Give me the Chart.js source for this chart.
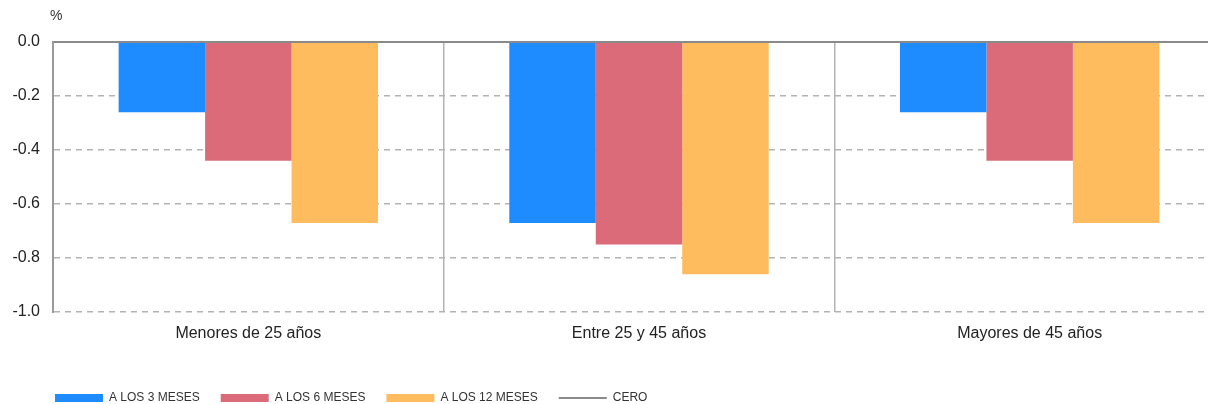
<!DOCTYPE html>
<html>
<head>
<meta charset="utf-8">
<script src="https://cdn.jsdelivr.net/npm/chart.js@4"></script>
<style>
  html, body { margin: 0; padding: 0; background: #fff; overflow: hidden; }
  #wrap { width: 1208px; height: 404px; overflow: hidden; }
</style>
</head>
<body>
<div id="wrap"><canvas id="theChart" width="1225" height="414"></canvas></div>
<script>
"use strict";

// Data
const categories = ["Menores de 25 años", "Entre 25 y 45 años", "Mayores de 45 años"];
const seriesNames = ["A LOS 3 MESES", "A LOS 6 MESES", "A LOS 12 MESES", "CERO"];
const threeMonths = [-0.26, -0.67, -0.26];
const sixMonths = [-0.44, -0.75, -0.44];
const twelveMonths = [-0.67, -0.86, -0.67];
const zeroLine = [0, 0, 0];
const yTicks = [0, -0.2, -0.4, -0.6, -0.8, -1.0];

const barColors = ["#1E8CFF", "#DB6B79", "#FEBC5F"];
const textColor = "#222";
const gridGray = "#b3b3b3";
const zeroGray = "#8a8a8a";

// "%" unit label above the y axis, and legend nudged right to line up with the axis
const extras = {
  id: "extras",
  beforeDraw(chart) {
    chart.legend.left = 34;
  },
  afterDraw(chart) {
    const ctx = chart.ctx;
    ctx.save();
    ctx.font = "14px 'Liberation Sans', Arial, sans-serif";
    ctx.fillStyle = "#333";
    ctx.textAlign = "left";
    ctx.textBaseline = "middle";
    ctx.fillText("%", chart.chartArea.left - 3, 16);
    ctx.restore();
  }
};

const barSet = (label, data, color) => ({
  type: "bar",
  label: label,
  data: data,
  backgroundColor: color,
  borderWidth: 0,
  pointStyle: "rect",
  categoryPercentage: 0.664,
  barPercentage: 1
});

new Chart(document.getElementById("theChart"), {
  type: "bar",
  data: {
    labels: categories,
    datasets: [
      barSet(seriesNames[0], threeMonths, barColors[0]),
      barSet(seriesNames[1], sixMonths, barColors[1]),
      barSet(seriesNames[2], twelveMonths, barColors[2]),
      {
        type: "line",
        label: seriesNames[3],
        data: zeroLine,
        borderColor: zeroGray,
        backgroundColor: zeroGray,
        borderWidth: 2,
        pointRadius: 0,
        pointStyle: "line",
        order: -1
      }
    ]
  },
  options: {
    responsive: false,
    animation: false,
    layout: { padding: { top: 42, left: 0, right: 0, bottom: 0 } },
    plugins: {
      tooltip: { enabled: false },
      legend: {
        position: "bottom",
        align: "start",
        labels: {
          usePointStyle: true,
          pointStyleWidth: 48,
          boxHeight: 8,
          padding: 21,
          color: "#333",
          font: { family: "'Liberation Sans', Arial, sans-serif", size: 12 },
          sort: (a, b) => a.datasetIndex - b.datasetIndex
        }
      }
    },
    scales: {
      x: {
        offset: true,
        grid: { offset: true, color: gridGray, lineWidth: 1.5, drawTicks: false },
        border: { display: false },
        ticks: {
          color: textColor,
          padding: 12,
          font: { family: "'Liberation Sans', Arial, sans-serif", size: 16 }
        },
        afterFit: (scale) => { scale.height = 59; }
      },
      y: {
        min: -1,
        max: 0,
        afterBuildTicks: (scale) => { scale.ticks = yTicks.map(v => ({ value: v })); },
        grid: {
          drawTicks: false,
          color: (c) => (c.tick && c.tick.value === 0) ? zeroGray : gridGray,
          lineWidth: (c) => (c.tick && c.tick.value === 0) ? 2 : 1.5
        },
        border: {
          display: true,
          color: "#999",
          width: 2,
          dash: (c) => (c.tick && c.tick.value !== 0) ? [6, 5] : []
        },
        ticks: {
          color: textColor,
          padding: 13,
          font: { family: "'Liberation Sans', Arial, sans-serif", size: 16 },
          callback: (v) => (v === 0 ? 0 : v).toFixed(1)
        },
        afterFit: (scale) => { scale.width = 53; }
      }
    }
  },
  plugins: [extras]
});
</script>
</body>
</html>
